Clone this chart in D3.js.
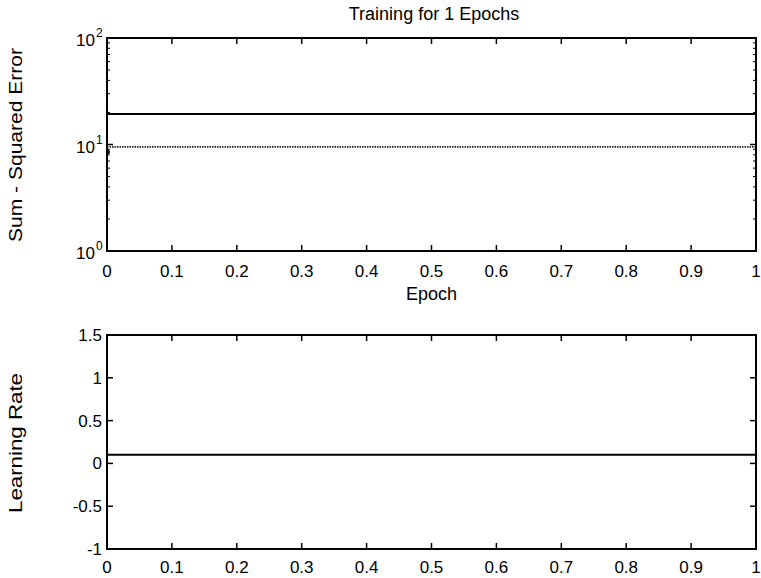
<!DOCTYPE html>
<html><head><meta charset="utf-8">
<script src="https://cdn.jsdelivr.net/npm/d3@7"></script>
<style>body{margin:0;background:#fff}svg{display:block}text{font-family:"Liberation Sans",Arial,sans-serif;fill:#000}</style>
</head><body>
<svg id="c" width="761" height="578"></svg>
<script>
const epochs = [0, 1];
const sseValues = [19.3, 19.3];
const goalValues = [9.5, 9.5];
const startPoint = [0, 8.5];
const lrValues = [0.1, 0.1];
const xTicks = [0,0.1,0.2,0.3,0.4,0.5,0.6,0.7,0.8,0.9,1];
const logTicks = [1, 10, 100];
const lrTicks = [-1,-0.5,0,0.5,1,1.5];

const svg = d3.select("#c");
const L = 107, R = 756;
const x = d3.scaleLinear().domain([0,1]).range([L,R]);
const yTop = d3.scaleLog().domain([1,100]).range([251,38]);
const yBot = d3.scaleLinear().domain([-1,1.5]).range([549,335]);

function frame(top, bottom, labOff){
  const g = svg.append("g");
  g.append("rect").attr("x",L).attr("y",top).attr("width",R-L).attr("height",bottom-top)
   .attr("fill","none").attr("stroke","#000").attr("stroke-width",2);
  xTicks.forEach(t=>{
    g.append("line").attr("x1",x(t)).attr("x2",x(t)).attr("y1",bottom).attr("y2",bottom-6).attr("stroke","#000").attr("stroke-width",1.5);
    g.append("line").attr("x1",x(t)).attr("x2",x(t)).attr("y1",top).attr("y2",top+6).attr("stroke","#000").attr("stroke-width",1.5);
    g.append("text").attr("x",x(t)).attr("y",bottom+labOff).attr("text-anchor","middle").attr("font-size",17).text(String(t));
  });
  return g;
}

// top panel
const g1 = frame(38, 251, 26);
for (let d of [1,10]) for (let k=2;k<=9;k++){
  const v=d*k;
  g1.append("line").attr("x1",L).attr("x2",L+3).attr("y1",yTop(v)).attr("y2",yTop(v)).attr("stroke","#000").attr("stroke-width",1);
  g1.append("line").attr("x1",R).attr("x2",R-3).attr("y1",yTop(v)).attr("y2",yTop(v)).attr("stroke","#000").attr("stroke-width",1);
}
logTicks.forEach(v=>{
  g1.append("line").attr("x1",L).attr("x2",L+6).attr("y1",yTop(v)).attr("y2",yTop(v)).attr("stroke","#000").attr("stroke-width",1.5);
  g1.append("line").attr("x1",R).attr("x2",R-6).attr("y1",yTop(v)).attr("y2",yTop(v)).attr("stroke","#000").attr("stroke-width",1.5);
  const e = Math.round(Math.log10(v));
  g1.append("text").attr("x",95).attr("y",yTop(v)+8).attr("text-anchor","end").attr("font-size",17).text("10");
  g1.append("text").attr("x",96).attr("y",yTop(v)-1).attr("font-size",12).text(String(e));
});
const line1 = d3.line().x((d,i)=>x(epochs[i])).y(d=>yTop(d));
g1.append("path").datum(sseValues).attr("d",line1).attr("fill","none").attr("stroke","#000").attr("stroke-width",2);
g1.append("path").datum(goalValues).attr("d",line1).attr("fill","none").attr("stroke","#222").attr("stroke-width",1.6).attr("stroke-dasharray","1.5,1");
g1.append("circle").attr("cx",x(startPoint[0])+1).attr("cy",yTop(startPoint[1])).attr("r",2).attr("fill","#000");
svg.append("text").attr("x",434).attr("y",20).attr("text-anchor","middle").attr("font-size",18).text("Training for 1 Epochs");
svg.append("text").attr("x",431.5).attr("y",300).attr("text-anchor","middle").attr("font-size",18).text("Epoch");
svg.append("text").attr("transform","translate(22,145) rotate(-90)").attr("text-anchor","middle").attr("font-size",18)
  .attr("textLength",194).attr("lengthAdjust","spacingAndGlyphs").text("Sum - Squared Error");

// bottom panel
const g2 = frame(335, 549, 24);
lrTicks.forEach(v=>{
  g2.append("line").attr("x1",L).attr("x2",L+6).attr("y1",yBot(v)).attr("y2",yBot(v)).attr("stroke","#000").attr("stroke-width",1.5);
  g2.append("line").attr("x1",R).attr("x2",R-6).attr("y1",yBot(v)).attr("y2",yBot(v)).attr("stroke","#000").attr("stroke-width",1.5);
  g2.append("text").attr("x",102).attr("y",yBot(v)+6).attr("text-anchor","end").attr("font-size",17).text(String(v));
});
const line2 = d3.line().x((d,i)=>x(epochs[i])).y(d=>yBot(d));
g2.append("path").datum(lrValues).attr("d",line2).attr("fill","none").attr("stroke","#000").attr("stroke-width",2);
svg.append("text").attr("transform","translate(22,443) rotate(-90)").attr("text-anchor","middle").attr("font-size",18)
  .attr("textLength",140).attr("lengthAdjust","spacingAndGlyphs").text("Learning Rate");
</script>
</body></html>
